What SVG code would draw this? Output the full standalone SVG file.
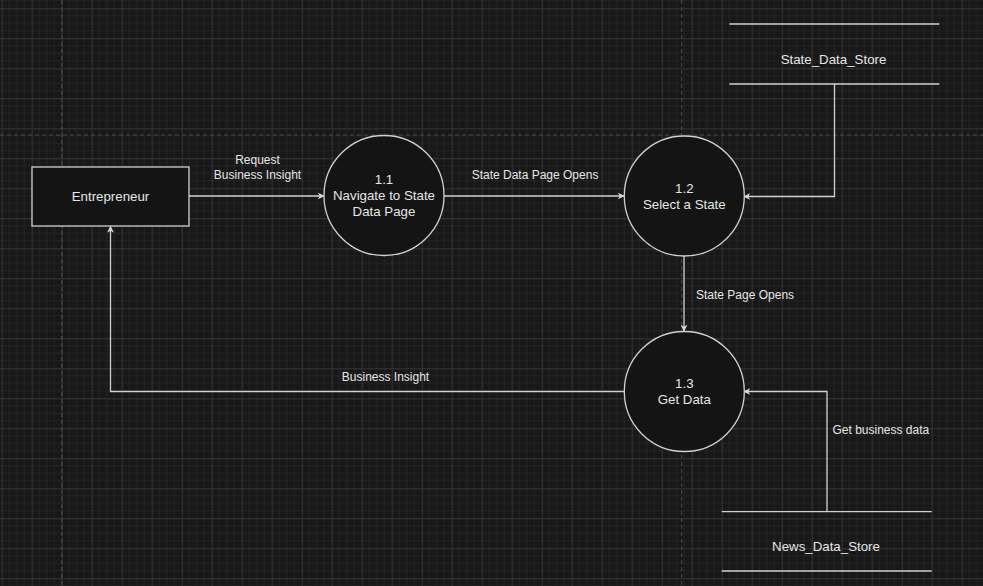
<svg xmlns="http://www.w3.org/2000/svg" width="983" height="586" viewBox="0 0 983 586">
  <defs>
    <pattern id="grid" x="1.7" y="8.3" width="30" height="30" patternUnits="userSpaceOnUse">
      <path d="M7.5 0V30M15 0V30M22.5 0V30M0 7.5H30M0 15H30M0 22.5H30" stroke="#232323" stroke-width="1" fill="none"/>
      <path d="M0.5 0V30M0 0.5H30" stroke="#353535" stroke-width="1" fill="none"/>
    </pattern>
    <marker id="arr" viewBox="0 0 10 10" refX="9" refY="5" markerWidth="7" markerHeight="7" markerUnits="userSpaceOnUse" orient="auto">
      <path d="M0 0L10 5L0 10L3 5Z" fill="#d8d8d8"/>
    </marker>
    <style>
      .node { fill: #141414; stroke: #d0d0d0; stroke-width: 1.3; }
      .store { stroke: #d0d0d0; stroke-width: 1.3; fill: none; }
      .edge { fill: none; stroke: #d0d0d0; stroke-width: 1.3; marker-end: url(#arr); }
      .page { stroke: #4a4a4a; stroke-width: 1; stroke-dasharray: 4 3; fill: none; }
      .nt { font-family: "Liberation Sans", Arial, sans-serif; font-size: 13.3px; fill: #e6e6e6; text-anchor: middle; }
      .et { font-family: "Liberation Sans", Arial, sans-serif; font-size: 12px; fill: #e6e6e6; }
    </style>
  </defs>
  <rect width="983" height="586" fill="#181818"/>
  <rect width="983" height="586" fill="url(#grid)"/>
  <g id="pages">
    <line class="page" x1="61.7" y1="0" x2="61.7" y2="586"/>
    <line class="page" x1="681.7" y1="0" x2="681.7" y2="586"/>
    <line class="page" x1="0" y1="135" x2="983" y2="135"/>
  </g>
  <g id="connectors">
    <path class="edge" d="M189 196H324"/>
    <text class="et" x="257.5" y="164" text-anchor="middle">Request</text>
    <text class="et" x="257.5" y="178.5" text-anchor="middle">Business Insight</text>
    <path class="edge" d="M444 196H624"/>
    <text class="et" x="535" y="179" text-anchor="middle">State Data Page Opens</text>
    <path class="edge" d="M834.5 84V196.5H744"/>
    <path class="edge" d="M684 256V331"/>
    <text class="et" x="696" y="298.5">State Page Opens</text>
    <path class="edge" d="M624 391.5H110.5V226.5"/>
    <text class="et" x="385.5" y="380.5" text-anchor="middle">Business Insight</text>
    <path class="edge" d="M827 511.5V391.5H744"/>
    <text class="et" x="832.5" y="433.5">Get business data</text>
  </g>
  <g id="entrepreneur">
    <rect class="node" x="32" y="167" width="157" height="59"/>
    <text class="nt" x="110.5" y="201">Entrepreneur</text>
  </g>
  <g id="p1_1">
    <circle class="node" cx="384" cy="195.5" r="60"/>
    <text class="nt" x="384" y="184.3">1.1</text>
    <text class="nt" x="384" y="200">Navigate to State</text>
    <text class="nt" x="384" y="215.7">Data Page</text>
  </g>
  <g id="p1_2">
    <circle class="node" cx="684.3" cy="196" r="60"/>
    <text class="nt" x="684.3" y="193">1.2</text>
    <text class="nt" x="684.3" y="208.7">Select a State</text>
  </g>
  <g id="p1_3">
    <circle class="node" cx="684.3" cy="391.5" r="60"/>
    <text class="nt" x="684.3" y="388">1.3</text>
    <text class="nt" x="684.3" y="403.7">Get Data</text>
  </g>
  <g id="state_data_store">
    <line class="store" x1="729.3" y1="24" x2="939.3" y2="24"/>
    <line class="store" x1="729.3" y1="84" x2="939.3" y2="84"/>
    <text class="nt" x="833.5" y="64">State_Data_Store</text>
  </g>
  <g id="news_data_store">
    <line class="store" x1="721.7" y1="511.7" x2="931.7" y2="511.7"/>
    <line class="store" x1="721.7" y1="571" x2="931.7" y2="571"/>
    <text class="nt" x="826" y="551">News_Data_Store</text>
  </g>
</svg>
